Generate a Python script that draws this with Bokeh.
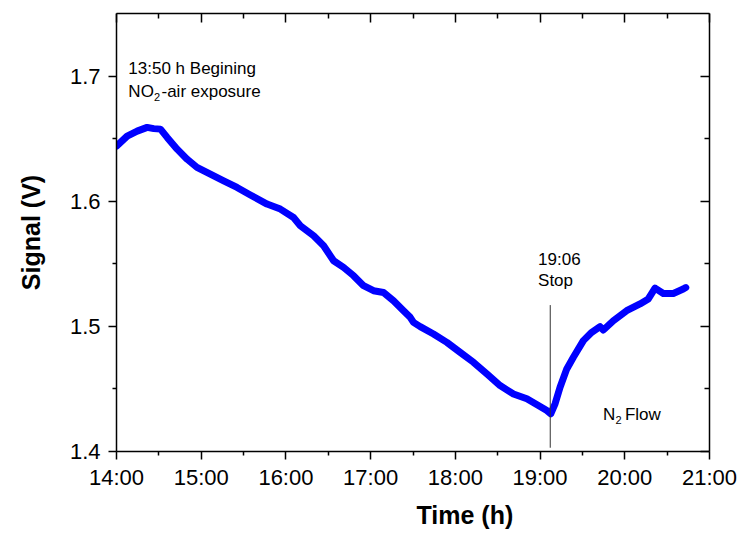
from bokeh.plotting import figure
from bokeh.models import Range1d, LinearAxis, FixedTicker, Label, Title
from bokeh.embed import file_html
from bokeh.resources import INLINE

# ---- data ----
time_h = [14.00, 14.126, 14.244, 14.362, 14.44, 14.519, 14.598, 14.716, 14.833, 14.95,
          15.108, 15.265, 15.423, 15.58, 15.777, 15.934, 16.09, 16.17, 16.327, 16.445,
          16.563, 16.68, 16.798, 16.916, 17.034, 17.152, 17.27, 17.388, 17.467, 17.506,
          17.585, 17.742, 17.9, 18.057, 18.214, 18.372, 18.528, 18.686, 18.844, 18.96,
          19.08, 19.126, 19.177, 19.236, 19.315, 19.393, 19.511, 19.61, 19.708, 19.747,
          19.865, 20.022, 20.18, 20.278, 20.357, 20.455, 20.573, 20.69, 20.72]
signal_v = [1.644, 1.652, 1.656, 1.659, 1.658, 1.6576, 1.651, 1.6416, 1.6336, 1.627,
            1.6216, 1.6163, 1.611, 1.605, 1.5977, 1.5937, 1.587, 1.5804, 1.5724, 1.5644,
            1.5524, 1.5471, 1.5405, 1.5325, 1.5285, 1.5271, 1.5205, 1.5125, 1.5072, 1.5032,
            1.4998, 1.4939, 1.4872, 1.4792, 1.4713, 1.462, 1.4527, 1.446, 1.4421, 1.4375,
            1.4327, 1.4301, 1.4381, 1.4513, 1.466, 1.4753, 1.4886, 1.4952, 1.4998, 1.4971,
            1.5045, 1.5125, 1.5179, 1.5219, 1.5306, 1.5263, 1.5263, 1.5298, 1.531]

x_ticks = [14, 15, 16, 17, 18, 19, 20, 21]
x_tick_labels = ["14:00", "15:00", "16:00", "17:00", "18:00", "19:00", "20:00", "21:00"]
x_minor = [14.5, 15.5, 16.5, 17.5, 18.5, 19.5, 20.5]
y_ticks = [1.4, 1.5, 1.6, 1.7]
y_tick_labels = ["1.4", "1.5", "1.6", "1.7"]
y_minor = [1.45, 1.55, 1.65]

stop_time = 19.12          # 19:06 stop marker
stop_line_v = [1.403, 1.517]

FONT = "Liberation Sans"

p = figure(frame_width=593, frame_height=438,
           min_border_left=116, min_border_right=29, min_border_top=13, min_border_bottom=83,
           x_range=Range1d(14, 21), y_range=Range1d(1.4, 1.75),
           output_backend="svg", toolbar_location=None, x_axis_location=None,
           y_axis_location=None)
p.grid.visible = False
p.outline_line_color = None
p.background_fill_color = "white"
p.border_fill_color = "white"

xt = FixedTicker(ticks=x_ticks, minor_ticks=x_minor)
yt = FixedTicker(ticks=y_ticks, minor_ticks=y_minor)

def style(ax, inside, labels):
    ax.axis_line_width = 1.5
    ax.axis_line_color = "black"
    ax.major_tick_line_width = 1.5
    ax.minor_tick_line_width = 1.5
    ax.major_tick_line_color = "black"
    ax.minor_tick_line_color = "black"
    if inside:
        ax.major_tick_in, ax.major_tick_out = 9, 0
        ax.minor_tick_in, ax.minor_tick_out = 5, 0
    else:
        ax.major_tick_in, ax.major_tick_out = 0, 8
        ax.minor_tick_in, ax.minor_tick_out = 0, 4
    if labels:
        ax.major_label_text_font = FONT
        ax.major_label_text_font_size = "22px"
        ax.major_label_text_color = "black"
    else:
        ax.major_label_text_font_size = "6px"
        ax.major_label_standoff = 0

xb = LinearAxis(ticker=xt, major_label_overrides=dict(zip(x_ticks, x_tick_labels)))
style(xb, False, True)
xb.major_label_standoff = 5
p.add_layout(xb, "below")

yl = LinearAxis(ticker=yt, major_label_overrides=dict(zip(y_ticks, y_tick_labels)))
style(yl, False, True)
yl.major_label_standoff = 8
yl.axis_label = "Signal (V)"
yl.axis_label_text_font = FONT
yl.axis_label_text_font_style = "bold"
yl.axis_label_text_font_size = "25px"
yl.axis_label_text_color = "black"
yl.axis_label_standoff = 22
p.add_layout(yl, "left")

xa = LinearAxis(ticker=xt, major_label_overrides={t: "" for t in x_ticks})
style(xa, True, False)
p.add_layout(xa, "above")

yr = LinearAxis(ticker=yt, major_label_overrides={t: "" for t in y_ticks})
style(yr, True, False)
p.add_layout(yr, "right")

# x-axis title (placed right of centre, as in the original)
p.add_layout(Title(text="Time (h)", align="left", offset=300, text_font=FONT,
                   text_font_size="25px", text_font_style="bold", text_color="black",
                   standoff=12), "below")

# data curve
p.line(time_h, signal_v, line_color="#0000ff", line_width=7,
       line_join="round", line_cap="round")

# stop marker
p.segment(x0=[stop_time], y0=[stop_line_v[0]], x1=[stop_time], y1=[stop_line_v[1]],
          line_color="#333333", line_width=1)

def lab(x, y, text, size="17px", align="left", bold=False):
    p.add_layout(Label(x=x, y=y, text=text, text_font=FONT, text_font_size=size,
                       text_align=align, text_baseline="alphabetic", text_color="black",
                       text_font_style="bold" if bold else "normal"))

lab(14.14, 1.706, "13:50 h Begining")
lab(14.14, 1.688, "NO")
lab(14.442, 1.6836, "2", size="11px")
lab(14.531, 1.688, "-air exposure")
lab(18.976, 1.5534, "19:06")
lab(18.976, 1.5366, "Stop")
lab(19.743, 1.4296, "N")
lab(19.890, 1.4248, "2", size="11px")
lab(20.002, 1.4296, "Flow")

open("out.html", "w").write(file_html(p, INLINE))
